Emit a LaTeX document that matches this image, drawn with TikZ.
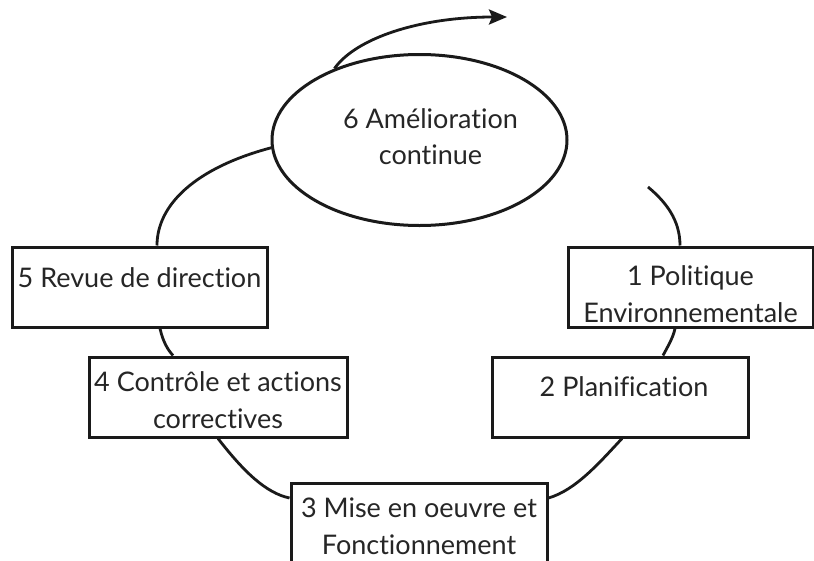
\documentclass[tikz,border=0pt]{standalone}
\usepackage{fontspec}
\setmainfont{Lato}[Ligatures={NoCommon}]
\usetikzlibrary{shapes.geometric,arrows.meta,calc}
\definecolor{ink}{HTML}{1A1A1A}
\definecolor{txt}{HTML}{262626}
\begin{document}
\begin{tikzpicture}[x=1pt,y=-1pt,
  box/.style={draw=ink,line width=3pt,fill=white,rectangle,inner sep=0pt,
    text=txt,font=\fontsize{27}{37}\selectfont},
  conn/.style={draw=ink,line width=2.8pt},
  ell/.style={draw=ink,line width=3pt,fill=white,ellipse,inner sep=0pt,
    text=txt,font=\fontsize{27}{36}\selectfont,align=center}]
\useasboundingbox (0,0) rectangle (814,560);
% nodes
\node[ell,minimum width=295pt,minimum height=171pt,text height=48pt,text depth=0pt]
  (e6) at (419.5,140) {\hspace*{22pt}6 Amélioration\\\hspace*{22pt}continue};
\node[box,minimum width=255pt,minimum height=80pt,text height=20pt,text depth=20pt]
  (b5) at (139.5,287) {5 Revue de direction};
\node[box,align=center,minimum width=258pt,minimum height=80pt,text height=63pt,text depth=0pt]
  (b4) at (218,397) {4 Contrôle et actions\\correctives};
\node[box,align=center,minimum width=256pt,minimum height=80pt,text height=62pt,text depth=0pt]
  (b3) at (419,523) {3 Mise en oeuvre et\\Fonctionnement};
\node[box,minimum width=256pt,minimum height=80pt,text height=19pt,text depth=21pt]
  (b2) at (620,397) {\hspace*{8pt}2 Planification};
\node[box,align=center,minimum width=245pt,minimum height=80pt,text height=70pt,text depth=0pt]
  (b1) at (690.5,287) {1 Politique\\Environnementale};
\coordinate (gap) at (648,187);
\coordinate (arrowend) at (507,17);
% connectors
\draw[conn] (e6.183) .. controls (195,168) and (157,205) .. ($(b5.north)+(17.5,0)$);
\draw[conn] ($(b5.south)+(20.5,0)$) .. controls (163,342) and (168,350) .. ($(b4.north)+(-45,0)$);
\draw[conn] (b4.south) .. controls (244,472) and (266,493) .. ($(b3.west)+(0,-25)$);
\draw[conn] ($(b3.east)+(0,-25)$) .. controls (576,490) and (600,462) .. ($(b2.south)+(2,0)$);
\draw[conn] ($(b2.north)+(43,0)$) .. controls (668,346) and (673,338) .. ($(b1.south)+(-15.5,0)$);
\draw[conn] ($(b1.north)+(-10.5,0)$) .. controls (680,220) and (666,202) .. (gap);
\draw[conn,-{Stealth[length=18pt,width=15pt,inset=3pt]}] (e6.140) .. controls (356,38) and (420,17) .. (arrowend);
\end{tikzpicture}
\end{document}
